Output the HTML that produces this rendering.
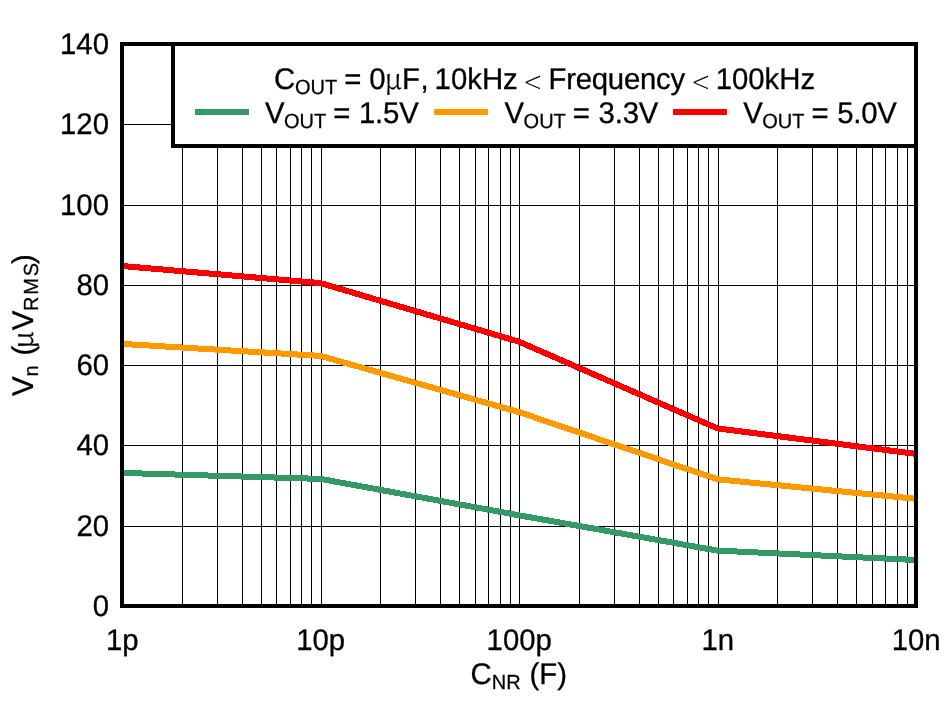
<!DOCTYPE html>
<html lang="en"><head><meta charset="utf-8"><title>Vn vs CNR</title>
<style>
html,body{margin:0;padding:0;background:#fff;}
body{width:944px;height:701px;overflow:hidden;}
svg{display:block;}
text{font-family:"Liberation Sans",sans-serif;font-size:29.33px;fill:#000;stroke:#000;stroke-width:0.3px;text-rendering:geometricPrecision;}
.sub{font-size:20px;stroke-width:0.25px;}
.mu{font-family:"Noto Serif CJK SC","Liberation Serif",serif;stroke-width:0.15px;font-size:28px;}
.lt{font-family:"DejaVu Sans","Liberation Sans",sans-serif;font-weight:200;stroke-width:0;}
</style></head><body>
<svg width="944" height="701" viewBox="0 0 944 701">
<rect x="0" y="0" width="944" height="701" fill="#fff"/>
<defs><clipPath id="pc"><rect x="124" y="46" width="790" height="558"/></clipPath></defs>
<g shape-rendering="crispEdges" fill="#000">
<rect x="182" y="46" width="1" height="558"/>
<rect x="217" y="46" width="1" height="558"/>
<rect x="242" y="46" width="1" height="558"/>
<rect x="261" y="46" width="1" height="558"/>
<rect x="276" y="46" width="1" height="558"/>
<rect x="290" y="46" width="1" height="558"/>
<rect x="301" y="46" width="1" height="558"/>
<rect x="311" y="46" width="1" height="558"/>
<rect x="321" y="46" width="1" height="558"/>
<rect x="380" y="46" width="1" height="558"/>
<rect x="415" y="46" width="1" height="558"/>
<rect x="440" y="46" width="1" height="558"/>
<rect x="459" y="46" width="1" height="558"/>
<rect x="475" y="46" width="1" height="558"/>
<rect x="488" y="46" width="1" height="558"/>
<rect x="500" y="46" width="1" height="558"/>
<rect x="510" y="46" width="1" height="558"/>
<rect x="519" y="46" width="1" height="558"/>
<rect x="579" y="46" width="1" height="558"/>
<rect x="614" y="46" width="1" height="558"/>
<rect x="639" y="46" width="1" height="558"/>
<rect x="658" y="46" width="1" height="558"/>
<rect x="673" y="46" width="1" height="558"/>
<rect x="687" y="46" width="1" height="558"/>
<rect x="698" y="46" width="1" height="558"/>
<rect x="708" y="46" width="1" height="558"/>
<rect x="718" y="46" width="1" height="558"/>
<rect x="777" y="46" width="1" height="558"/>
<rect x="812" y="46" width="1" height="558"/>
<rect x="837" y="46" width="1" height="558"/>
<rect x="856" y="46" width="1" height="558"/>
<rect x="872" y="46" width="1" height="558"/>
<rect x="885" y="46" width="1" height="558"/>
<rect x="897" y="46" width="1" height="558"/>
<rect x="907" y="46" width="1" height="558"/>
<rect x="124" y="526" width="790" height="1"/>
<rect x="124" y="445" width="790" height="1"/>
<rect x="124" y="365" width="790" height="1"/>
<rect x="124" y="285" width="790" height="1"/>
<rect x="124" y="205" width="790" height="1"/>
<rect x="124" y="124" width="790" height="1"/>
</g>
<g fill="none" stroke-width="6" stroke-linejoin="round" stroke-linecap="butt" clip-path="url(#pc)" shape-rendering="crispEdges">
<polyline stroke="#339966" points="122.0,472.9 320.5,478.9 519.0,515.3 717.5,550.6 916.0,560.0"/>
<polyline stroke="#ff9900" points="122.0,343.9 320.5,355.9 519.0,412.1 717.5,479.3 916.0,498.8"/>
<polyline stroke="#ff0000" points="122.0,266.0 320.5,283.1 519.0,341.7 717.5,428.4 916.0,453.9"/>
</g>
<g shape-rendering="crispEdges">
<rect x="173" y="44" width="743" height="102" fill="#fff" stroke="#000" stroke-width="4"/>
<rect x="122" y="44" width="794" height="562" fill="none" stroke="#000" stroke-width="4"/>
<rect x="195" y="109" width="54" height="6" fill="#339966"/>
<rect x="434" y="109" width="54" height="6" fill="#ff9900"/>
<rect x="673" y="109" width="54" height="6" fill="#ff0000"/>
</g>
<text transform="translate(109.0,616.0) scale(1,1.02)" text-anchor="end">0</text>
<text transform="translate(109.0,535.7) scale(1,1.02)" text-anchor="end">20</text>
<text transform="translate(109.0,455.4) scale(1,1.02)" text-anchor="end">40</text>
<text transform="translate(109.0,375.1) scale(1,1.02)" text-anchor="end">60</text>
<text transform="translate(109.0,294.9) scale(1,1.02)" text-anchor="end">80</text>
<text transform="translate(109.0,214.6) scale(1,1.02)" text-anchor="end">100</text>
<text transform="translate(109.0,134.3) scale(1,1.02)" text-anchor="end">120</text>
<text transform="translate(109.0,54.0) scale(1,1.02)" text-anchor="end">140</text>
<text transform="translate(122.2,649.6) scale(1,1.02)" text-anchor="middle">1p</text>
<text transform="translate(320.7,649.6) scale(1,1.02)" text-anchor="middle">10p</text>
<text transform="translate(519.2,649.6) scale(1,1.02)" text-anchor="middle">100p</text>
<text transform="translate(717.7,649.6) scale(1,1.02)" text-anchor="middle">1n</text>
<text transform="translate(916.2,649.6) scale(1,1.02)" text-anchor="middle">10n</text>
<text transform="translate(0,684) scale(1,1.02)"><tspan x="470.6" y="0">C</tspan><tspan x="491.8" y="4.9" class="sub">NR </tspan><tspan x="529.5" y="0">(F)</tspan></text>
<g transform="translate(33,396) rotate(-90)">
<text transform="translate(0,0) scale(1,1.02)"><tspan x="0" y="0">V</tspan><tspan x="19.6" y="4.9" class="sub">n </tspan><tspan x="40.5" y="0">(</tspan><tspan x="47.3" y="0" class="mu">µ</tspan><tspan x="65.8" y="0">V</tspan><tspan x="85.1" y="4.9" class="sub" letter-spacing="1.8">RMS</tspan><tspan x="132.1" y="0">)</tspan></text>
</g>
<text transform="translate(0,89) scale(1,1.02)"><tspan x="274.1" y="0">C</tspan><tspan x="295.0" y="4.9" class="sub">OUT </tspan><tspan x="344.3" y="0">= </tspan><tspan x="369.3" y="0">0</tspan><tspan x="384.4" y="0" class="mu">µ</tspan><tspan x="401.9" y="0">F</tspan><tspan x="420.6" y="0">, </tspan><tspan x="434.6" y="0">10kHz </tspan></text>
<text class="lt" transform="translate(523.3,90.8) scale(0.83,1)" font-size="27.5" style="font-size:27.5px">&lt;</text>
<text transform="translate(0,89) scale(1,1.02)"><tspan x="548.6" y="0" letter-spacing="-0.26">Frequency </tspan></text>
<text class="lt" transform="translate(691.3,90.8) scale(0.83,1)" font-size="27.5" style="font-size:27.5px">&lt;</text>
<text transform="translate(0,89) scale(1,1.02)"><tspan x="715.65" y="0">100kHz</tspan></text>
<text transform="translate(0,123) scale(1,1.02)"><tspan x="265" y="0">V</tspan><tspan x="284.0" y="4.9" class="sub">OUT </tspan><tspan x="333.2" y="0">= </tspan><tspan x="359.0" y="0" letter-spacing="-0.2">1.5V</tspan></text>
<text transform="translate(0,123) scale(1,1.02)"><tspan x="504.6" y="0">V</tspan><tspan x="523.6" y="4.9" class="sub">OUT </tspan><tspan x="572.8" y="0">= </tspan><tspan x="598.6" y="0" letter-spacing="-0.2">3.3V</tspan></text>
<text transform="translate(0,123) scale(1,1.02)"><tspan x="743.2" y="0">V</tspan><tspan x="762.2" y="4.9" class="sub">OUT </tspan><tspan x="811.4" y="0">= </tspan><tspan x="837.2" y="0" letter-spacing="-0.2">5.0V</tspan></text>
</svg></body></html>
